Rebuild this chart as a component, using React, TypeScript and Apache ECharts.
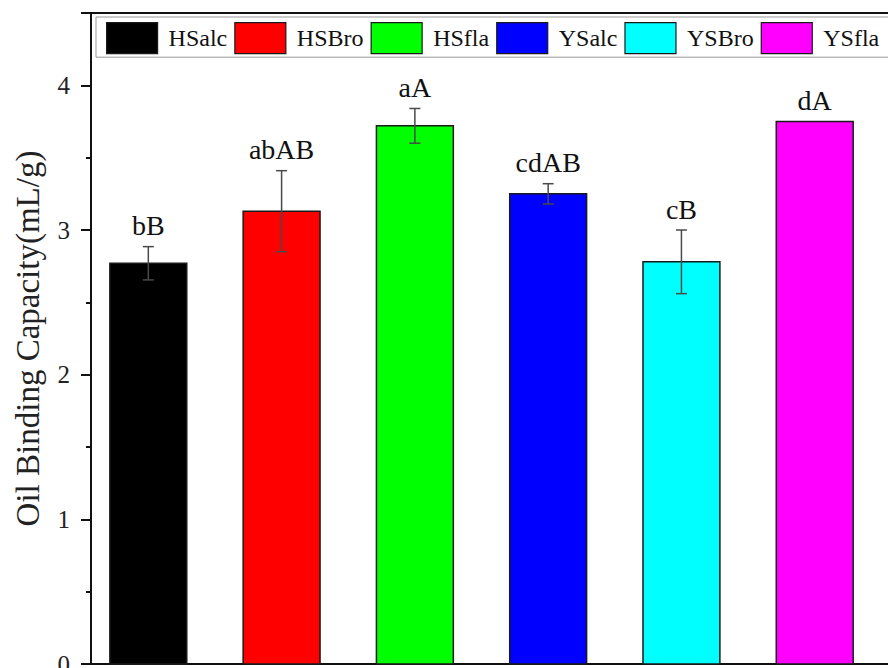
import React, { useEffect, useRef } from "react";
import * as echarts from "echarts";

// Samples, mean oil binding capacity (mL/g), standard deviation and significance letters
const samples = ["HSalc", "HSBro", "HSfla", "YSalc", "YSBro", "YSfla"];
const capacity = [2.77, 3.13, 3.72, 3.25, 2.78, 3.75];
const deviation = [0.115, 0.28, 0.12, 0.07, 0.22, 0];
const letters = ["bB", "abAB", "aA", "cdAB", "cB", "dA"];
const barColors = ["#000000", "#ff0000", "#00ff00", "#0000ff", "#00ffff", "#ff00ff"];
const yTicks = [0, 1, 2, 3, 4];

const SERIF = '"Liberation Serif", "Times New Roman", serif';

export default function App() {
  const ref = useRef<HTMLDivElement>(null);

  useEffect(() => {
    if (!ref.current) return;
    const chart = echarts.init(ref.current, undefined, { renderer: "svg" });

    const series = samples.map((name, i) => ({
      name,
      type: "custom",
      itemStyle: { color: barColors[i], borderColor: "#1a1a1a", borderWidth: 1.5 },
      data: [[i + 1, capacity[i], deviation[i]]],
      renderItem: (_params: any, api: any) => {
        const x = api.value(0);
        const v = api.value(1);
        const e = api.value(2);
        const base = api.coord([x, 0]);
        const top = api.coord([x, v]);
        const hi = api.coord([x, v + e]);
        const lo = api.coord([x, v - e]);
        const w = api.size([1, 0])[0] * 0.577;
        const cap = 5.5;
        const children: any[] = [
          {
            type: "rect",
            shape: { x: base[0] - w / 2, y: top[1], width: w, height: base[1] - top[1] },
            style: { fill: barColors[i], stroke: "#1a1a1a", lineWidth: 1.5 },
          },
        ];
        if (e > 0) {
          const errStyle = { stroke: "#4a4a4a", lineWidth: 1.5 };
          children.push(
            { type: "line", shape: { x1: top[0], y1: hi[1], x2: top[0], y2: lo[1] }, style: errStyle },
            { type: "line", shape: { x1: top[0] - cap, y1: hi[1], x2: top[0] + cap, y2: hi[1] }, style: errStyle },
            { type: "line", shape: { x1: top[0] - cap, y1: lo[1], x2: top[0] + cap, y2: lo[1] }, style: errStyle }
          );
        }
        children.push({
          type: "text",
          style: {
            text: letters[i],
            x: top[0],
            y: hi[1] - 7,
            align: "center",
            verticalAlign: "bottom",
            fontFamily: SERIF,
            fontSize: 28,
            fill: "#111",
          },
        });
        return { type: "group", children };
      },
    }));

    chart.setOption({
      animation: false,
      backgroundColor: "#ffffff",
      grid: {
        left: 91,
        top: 13,
        bottom: 4,
        right: -60,
        outerBoundsMode: "none",
        containLabel: false,
        show: true,
        borderColor: "#111",
        borderWidth: 2,
      },
      legend: {
        data: samples,
        left: 96,
        top: 17,
        width: 1000,
        orient: "horizontal",
        icon: "rect",
        itemWidth: 51,
        itemHeight: 31,
        itemGap: 7,
        padding: [5, 30, 3, 10],
        borderColor: "#999",
        borderWidth: 1,
        itemStyle: { borderColor: "#1a1a1a", borderWidth: 1.2 },
        textStyle: { fontFamily: SERIF, fontSize: 24, color: "#111", padding: [0, 0, 0, 6] },
      },
      xAxis: {
        type: "value",
        min: 0.57,
        max: 7,
        axisLine: { show: true, lineStyle: { color: "#111", width: 2 } },
        axisTick: { show: false },
        axisLabel: { show: false },
        splitLine: { show: false },
      },
      yAxis: {
        type: "value",
        min: 0,
        max: 4.5,
        interval: 1,
        name: "Oil Binding Capacity(mL/g)",
        nameLocation: "middle",
        nameGap: 47,
        nameTextStyle: { fontFamily: SERIF, fontSize: 33, color: "#222" },
        axisLine: { show: true, lineStyle: { color: "#111", width: 2 } },
        axisTick: { show: true, length: 10, lineStyle: { color: "#111", width: 2 } },
        minorTick: { show: true, splitNumber: 2, length: 5, lineStyle: { color: "#111", width: 2 } },
        axisLabel: {
          margin: 21,
          fontFamily: SERIF,
          fontSize: 25,
          color: "#222",
          formatter: (val: number) => (yTicks.includes(val) ? String(val) : ""),
        },
        splitLine: { show: false },
      },
      series,
    });

    return () => chart.dispose();
  }, []);

  return (
    <div
      ref={ref}
      style={{ position: "fixed", left: 0, top: 0, width: 888, height: 668 }}
    />
  );
}
